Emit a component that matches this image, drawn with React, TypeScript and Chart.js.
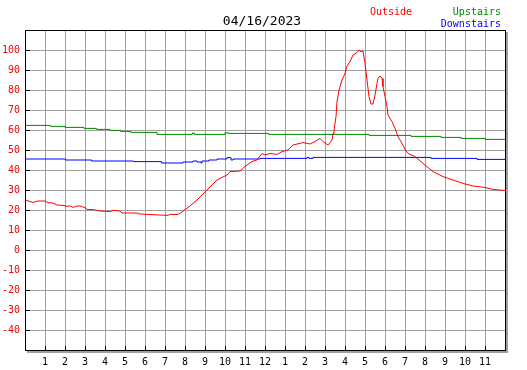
import React, { useEffect, useRef } from "react";
import { Chart, registerables } from "chart.js";

Chart.register(...registerables);

const TITLE = "04/16/2023";
const FONT = "'DejaVu Sans Mono', monospace";

// Outside temperature: [hour, value]
const outsideHours = [
  0, 0.4, 0.65, 1.0, 1.15, 1.4, 1.6, 1.9, 2.15, 2.25, 2.4, 2.6, 2.75, 3.0, 3.1, 3.4, 3.75, 4.25, 4.4, 4.6, 4.75, 4.85,
  5.6, 5.75, 6.1, 7.15, 7.25, 7.6, 7.75, 8.0, 8.25, 8.6, 9.1, 9.6, 9.85, 10.1, 10.25, 10.75, 11.0, 11.33, 11.6,
  11.85, 12.0, 12.25, 12.6, 12.85, 13.15, 13.4, 13.9, 14.25, 14.5, 14.75, 14.9, 15.15, 15.35, 15.4, 15.45, 15.55,
  15.6, 15.7, 15.85, 16.0, 16.1, 16.25, 16.4, 16.6, 16.7, 16.8, 16.9, 17.0, 17.1, 17.2, 17.3, 17.4, 17.5, 17.6,
  17.65, 17.75, 17.85, 17.9, 18.0, 18.1, 18.15, 18.35, 18.5, 18.65, 18.85, 19.0, 19.15, 19.5, 19.9, 20.4, 20.9,
  21.4, 21.9, 22.4, 23.0, 23.4, 23.9, 24.0,
];
const outsideValues = [
  25, 23.8, 24.5, 24.5, 23.7, 23.5, 22.5, 22.3, 21.8, 22.1, 21.3, 22, 22, 21.2, 20.3, 20.2, 19.5, 19.2, 19.8, 19.7,
  19.4, 18.5, 18.5, 18, 17.8, 17.3, 17.8, 17.7, 18.3, 20.2, 22, 25, 30, 35, 36.3, 37.5, 39.2, 39.5, 41.7, 44.2, 45,
  48.3, 47.5, 48.3, 47.8, 49.2, 50, 52.5, 53.7, 53, 54.2, 55.8, 54.2, 52.5, 55, 58.3, 60, 66.7, 74.2, 80, 85, 88.3,
  92, 94.2, 97.5, 98.8, 100, 99.2, 99.5, 93.3, 85, 76.7, 73, 73, 77.5, 83.3, 85.8, 87, 85.8, 81.7, 76.7, 71.7, 67.5,
  64.2, 60.8, 56.7, 53.3, 50.3, 48.3, 46.7, 43.3, 39.2, 36.7, 35, 33.3, 32, 31.3, 30.3, 29.8, 29.8,
];

// Upstairs temperature (stepped)
const upstairsHours = [0, 1.28, 2.0, 2.95, 3.58, 4.25, 4.78, 5.3, 6.6, 8.37, 8.47, 10.0, 10.17, 12.17, 17.2, 19.3, 20.8, 21.8, 23.0, 24];
const upstairsValues = [62.3, 61.8, 61.3, 60.8, 60.3, 59.8, 59.3, 58.8, 57.8, 58.5, 57.8, 58.6, 58.3, 57.8, 57.3, 56.8, 56.3, 55.8, 55.3, 55.3];

// Downstairs temperature (stepped)
const downstairsHours = [0, 2.02, 3.33, 5.42, 6.83, 7.9, 8.4, 8.6, 8.8, 8.85, 9.2, 9.6, 10.1, 10.3, 10.4, 11.75, 14.1, 14.2, 14.4, 20.3, 22.6, 24];
const downstairsValues = [45.5, 45, 44.5, 44.2, 43.5, 44, 44.5, 44, 43.5, 44.5, 45, 45.5, 46.2, 45, 45.5, 45.8, 46.3, 45.8, 46.3, 45.8, 45.3, 45.3];

const hourLabels = ["1", "2", "3", "4", "5", "6", "7", "8", "9", "10", "11", "12", "1", "2", "3", "4", "5", "6", "7", "8", "9", "10", "11"];

const legendItems = [
  { text: "Outside", color: "#ff0000" },
  { text: "Upstairs", color: "#008800" },
  { text: "Downstairs", color: "#0000ff" },
];

const zip = (xs: number[], ys: number[]) => xs.map((x, i) => ({ x, y: ys[i] }));

const framePlugin = {
  id: "frame",
  afterDraw(chart: any) {
    const { ctx, chartArea: a } = chart;
    const xs = chart.scales.x;
    const ys = chart.scales.y;
    const L = Math.round(a.left);
    const R = Math.round(a.right);
    const T = Math.round(a.top);
    const B = Math.round(a.bottom);
    ctx.save();
    // shadow
    ctx.fillStyle = "#a0a0a0";
    ctx.fillRect(R + 1, T + 2, 2, B - T + 1);
    ctx.fillRect(L + 2, B + 1, R - L + 1, 2);
    // frame
    ctx.fillStyle = "#000";
    ctx.fillRect(L, T, 1, B - T + 1);
    ctx.fillRect(R, T, 1, B - T + 1);
    ctx.fillRect(L, T, R - L + 1, 1);
    ctx.fillRect(L, B, R - L + 1, 1);
    // inner ticks
    for (let v = -40; v <= 100; v += 10) {
      const y = Math.round(ys.getPixelForValue(v));
      ctx.fillRect(L + 1, y, 4, 1);
    }
    for (let h = 1; h <= 23; h++) {
      const x = Math.round(xs.getPixelForValue(h));
      ctx.fillRect(x, B - 4, 1, 4);
    }
    // title
    ctx.font = `13px ${FONT}`;
    ctx.fillStyle = "#000";
    ctx.textAlign = "center";
    ctx.textBaseline = "alphabetic";
    ctx.fillText(TITLE, 262, 25);
    // legend
    ctx.font = `10px ${FONT}`;
    ctx.textAlign = "left";
    ctx.fillStyle = legendItems[0].color;
    ctx.fillText(legendItems[0].text, 370, 14.5);
    ctx.textAlign = "right";
    ctx.fillStyle = legendItems[1].color;
    ctx.fillText(legendItems[1].text, 501, 14.5);
    ctx.fillStyle = legendItems[2].color;
    ctx.fillText(legendItems[2].text, 501, 26.5);
    ctx.restore();
  },
};

export default function App() {
  const ref = useRef<HTMLCanvasElement | null>(null);
  useEffect(() => {
    if (!ref.current) return;
    const chart = new Chart(ref.current, {
      type: "line",
      data: {
        datasets: [
          {
            label: legendItems[0].text,
            data: zip(outsideHours, outsideValues),
            borderColor: legendItems[0].color,
            borderWidth: 1,
            pointRadius: 0,
            tension: 0,
          },
          {
            label: legendItems[1].text,
            data: zip(upstairsHours, upstairsValues),
            borderColor: legendItems[1].color,
            borderWidth: 1,
            pointRadius: 0,
            stepped: true,
          },
          {
            label: legendItems[2].text,
            data: zip(downstairsHours, downstairsValues),
            borderColor: legendItems[2].color,
            borderWidth: 1,
            pointRadius: 0,
            stepped: true,
          },
        ],
      },
      options: {
        responsive: false,
        animation: false,
        devicePixelRatio: 1,
        layout: { padding: { top: 30, right: 22, left: 0, bottom: 0 } },
        plugins: {
          legend: { display: false },
          title: { display: false },
          tooltip: { enabled: false },
        },
        scales: {
          x: {
            type: "linear",
            min: 0,
            max: 24,
            afterFit: (s: any) => {
              s.height = 20;
            },
            grid: { color: "#a0a0a0", lineWidth: 1, drawTicks: false },
            border: { display: false },
            ticks: {
              stepSize: 1,
              autoSkip: false,
              maxRotation: 0,
              padding: 6,
              color: "#000",
              font: { family: FONT, size: 10 },
              callback: (v: any) => {
                const n = Number(v);
                return n >= 1 && n <= 23 ? hourLabels[n - 1] : "";
              },
            },
          },
          y: {
            min: -50,
            max: 110,
            afterFit: (s: any) => {
              s.width = 25;
            },
            grid: { color: "#a0a0a0", lineWidth: 1, drawTicks: false },
            border: { display: false },
            ticks: {
              stepSize: 10,
              padding: 5,
              color: "#ff0000",
              font: { family: FONT, size: 10 },
              callback: (v: any) => {
                const n = Number(v);
                return n >= -40 && n <= 100 ? String(n) : "";
              },
            },
          },
        },
      },
      plugins: [framePlugin],
    });
    return () => chart.destroy();
  }, []);
  return (
    <div style={{ position: "absolute", left: 0, top: 0, width: 527, height: 370, background: "#fff" }}>
      <canvas ref={ref} width={527} height={370} style={{ display: "block" }} />
    </div>
  );
}
